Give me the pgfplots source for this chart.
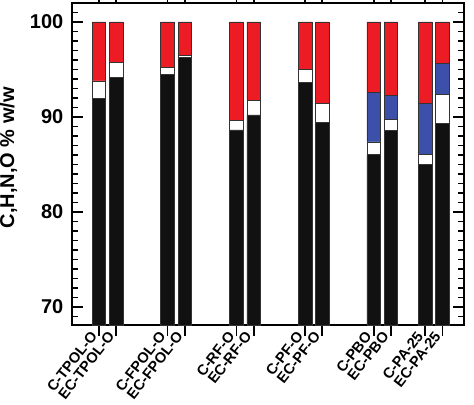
\documentclass[border=0pt]{standalone}
\usepackage{fontspec}
\setmainfont{Liberation Sans}
\usepackage{pgfplots}
\usepackage{pgfplotstable}
\pgfplotsset{compat=1.18}

\definecolor{cred}{HTML}{ED1C24}
\definecolor{cblue}{HTML}{3C50AA}
\definecolor{cblack}{HTML}{111111}

% x in picture units, C H N O as stacked increments
\pgfplotstableread{
x      C      H     N     O
99.0   91.93  1.87  0     6.20
116.3  94.14  1.58  0     4.28
167.5  94.45  0.78  0     4.77
184.8  96.24  0.21  0     3.55
236.5  88.63  1.05  0     10.32
253.7  90.21  1.55  0     8.24
305.2  93.61  1.37  0     5.02
322.3  89.44  2.03  0     8.53
373.7  86.03  1.34  5.23  7.40
390.8  88.56  1.20  2.52  7.72
425.2  85.02  1.01  5.37  8.60
442.5  89.34  3.01  3.30  4.35
}\comp

\begin{document}
\begin{tikzpicture}
\begin{axis}[
    scale only axis,
    width=294pt, height=241.5pt,
    xmin=72, xmax=464,
    ymin=68.1, ymax=102,
    ybar stacked,
    bar width=13.5,
    axis line style={line width=2pt},
    xtick={99.0,116.3,167.5,184.8,236.5,253.7,305.2,322.3,373.7,390.8,425.2,442.5},
    xticklabels={C-TPOL-O,EC-TPOL-O,C-FPOL-O,EC-FPOL-O,C-RF-O,EC-RF-O,C-PF-O,EC-PF-O,C-PBO,EC-PBO,C-PA-25,EC-PA-25},
    xticklabel style={font=\bfseries\fontsize{11}{11}\selectfont, rotate=52, anchor=east, inner sep=1pt, yshift=4pt},
    xtick align=outside,
    ytick={70,80,90,100},
    minor ytick={69,71,72,73,74,75,76,77,78,79,81,82,83,84,85,86,87,88,89,91,92,93,94,95,96,97,98,99,101},
    major tick length=8pt,
    minor tick length=4.5pt,
    every tick/.append style={line width=1.3pt, black},
    yticklabel style={font=\bfseries\fontsize{15}{15}\selectfont, xshift=-3pt},
    /pgf/number format/assume math mode=true,
    ylabel={C,H,N,O \% w/w},
    ylabel style={font=\bfseries\fontsize{15}{15}\selectfont, at={(axis description cs:-0.162,0.52)}, anchor=center},
]
\addplot[fill=cblack, draw=black!80, line width=0.5pt] table[x=x, y=C] {\comp};
\addplot[fill=white, draw=black!80, line width=0.5pt] table[x=x, y=H] {\comp};
\addplot[fill=cblue, draw=black!80, line width=0.5pt] table[x=x, y=N] {\comp};
\addplot[fill=cred, draw=black!80, line width=0.5pt] table[x=x, y=O] {\comp};
\end{axis}
\pgfresetboundingbox
\path ([xshift=-54pt,yshift=-59.25pt]current axis.south west) rectangle ([xshift=7.5pt,yshift=2.25pt]current axis.north east);
\end{tikzpicture}
\end{document}
